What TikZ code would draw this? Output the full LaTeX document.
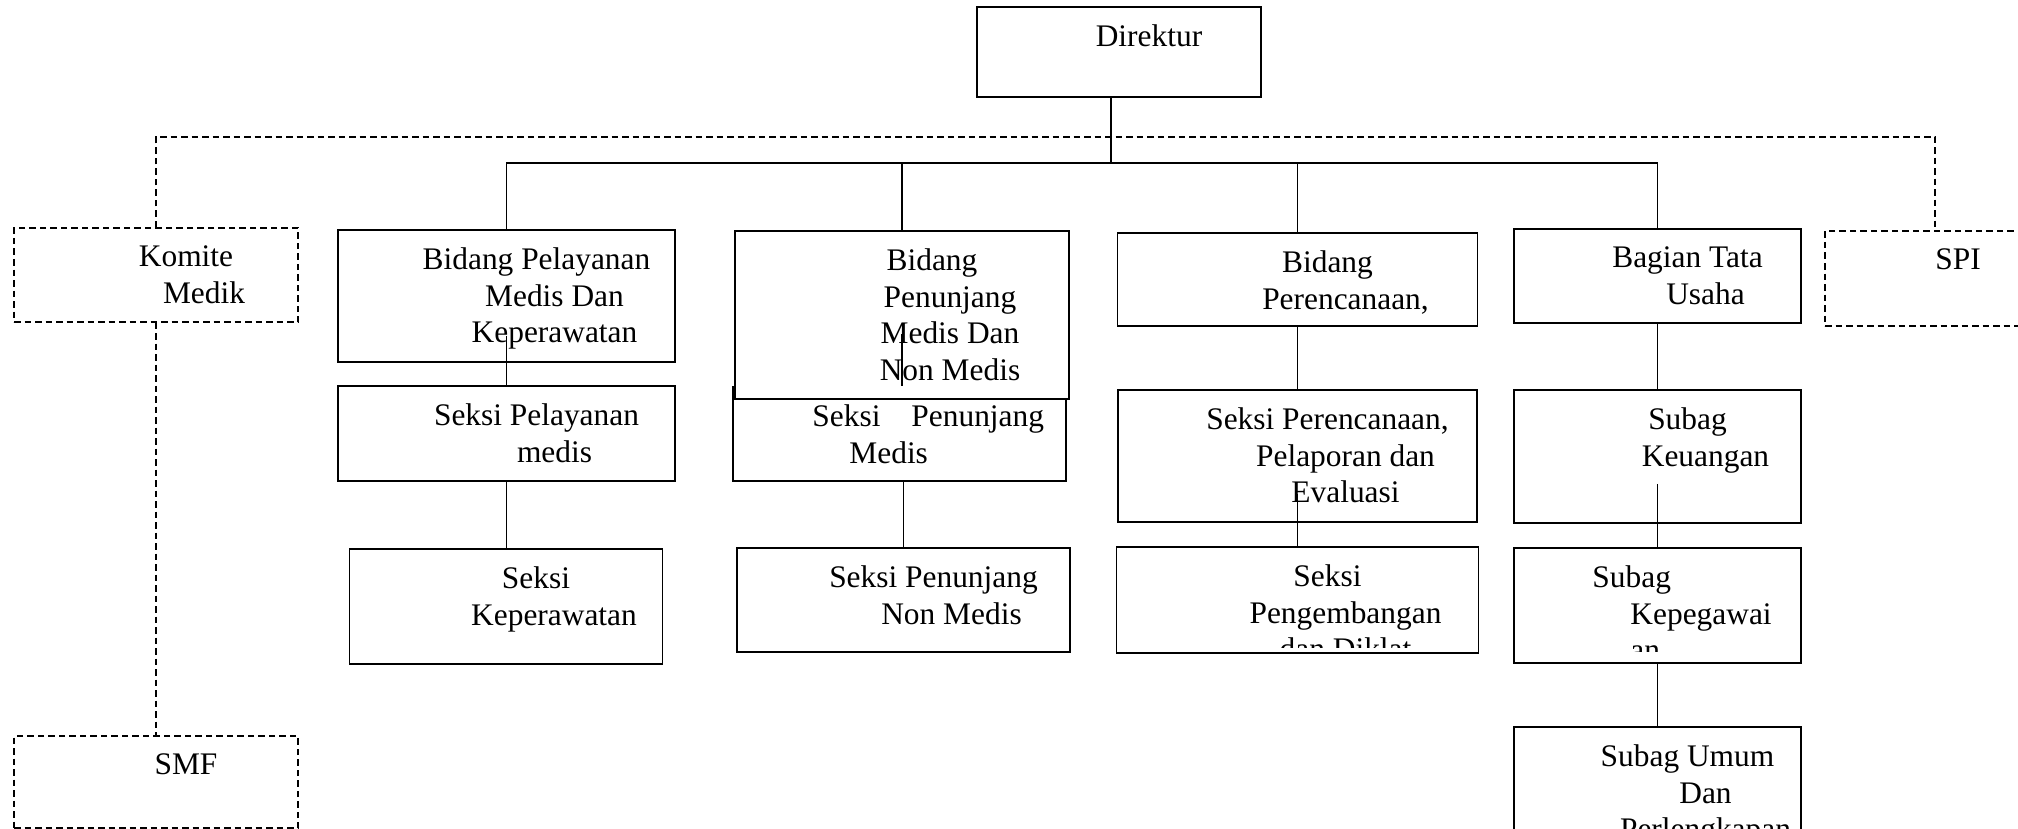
\documentclass[tikz,border=0pt]{standalone}
\usepackage{fontspec}
\setmainfont{Liberation Serif}
\newcommand\boxfont{\fontsize{31.4}{36.8}\selectfont}
\newcommand\firstln[1]{\hspace*{-36pt}#1}

\begin{document}
\begin{tikzpicture}[x=1pt,y=-1pt,
  box/.style={draw=black,fill=white,line width=1.5pt,inner sep=0pt},
  dbox/.style={draw=black,line width=1.3pt,dash pattern=on 6.5pt off 4pt,inner sep=0pt},
  txt/.style={anchor=north,inner sep=0pt,align=center,font=\boxfont},
  ltxt/.style={anchor=north west,inner sep=0pt,align=left,font=\boxfont},
  link/.style={line width=1.3pt},
  dlink/.style={line width=1.3pt,dash pattern=on 6.5pt off 4pt}]
\useasboundingbox (0,0) rectangle (2018,829);
\clip (0,0) rectangle (2018,829);
\node[box,minimum width=284pt,minimum height=90pt] (0) at (1119,52) {};
\node[dbox,minimum width=284pt,minimum height=94pt] (1) at (156,275) {};
\node[dbox,minimum width=284pt,minimum height=92pt] (2) at (156,782) {};
\node[dbox,minimum width=220pt,minimum height=95pt] (3) at (1935,278.5) {};
\node[box,minimum width=337pt,minimum height=132pt] (4) at (506.5,296) {};
\node[box,minimum width=337pt,minimum height=95pt] (5) at (506.5,433.5) {};
\node[box,minimum width=313pt,minimum height=115pt] (6) at (506,606.5) {};
\node[box,minimum width=333pt,minimum height=94pt] (7) at (899.5,434) {};
\node[box,minimum width=334pt,minimum height=168pt] (8) at (902,315) {};
\node[box,minimum width=333pt,minimum height=104pt] (9) at (903.5,600) {};
\node[box,minimum width=360pt,minimum height=93pt] (10) at (1297.5,279.5) {};
\node[box,minimum width=359pt,minimum height=132pt] (11) at (1297.5,456) {};
\node[box,minimum width=362pt,minimum height=106pt] (12) at (1297.5,600) {};
\node[box,minimum width=287pt,minimum height=94pt] (13) at (1657.5,276) {};
\node[box,minimum width=287pt,minimum height=133pt] (14) at (1657.5,456.5) {};
\node[box,minimum width=287pt,minimum height=115pt] (15) at (1657.5,605.5) {};
\node[box,minimum width=287pt,minimum height=133pt] (16) at (1657.5,793.5) {};

\node[txt,shift={(48,18)}] (t0) at (0.north) {\firstln{Direktur}};
\node[txt,shift={(48,18)}] (t1) at (1.north) {\firstln{Komite}\\Medik};
\node[txt,shift={(48,18)}] (t2) at (2.north) {\firstln{SMF}};
\node[txt,shift={(41,18)}] (t3) at (3.north) {\firstln{SPI}};
\node[txt,shift={(48,18)}] (t4) at (4.north) {\firstln{Bidang Pelayanan}\\Medis Dan\\Keperawatan};
\node[txt,shift={(48,18)}] (t5) at (5.north) {\firstln{Seksi Pelayanan}\\medis};
\node[txt,shift={(48,18)}] (t6) at (6.north) {\firstln{Seksi}\\Keperawatan};
\node[ltxt,shift={(80,18)}] (t7) at (7.north west) {Seksi\hspace{31pt}Penunjang\\\hspace*{37pt}Medis};
\node[txt,shift={(48,18)}] (t8) at (8.north) {\firstln{Bidang}\\Penunjang\\Medis Dan\\Non Medis};
\node[txt,shift={(48,18)}] (t9) at (9.north) {\firstln{Seksi Penunjang}\\Non Medis};
\node[txt,shift={(48,18)}] (t10) at (10.north) {\firstln{Bidang}\\Perencanaan,};
\node[txt,shift={(48,18)}] (t11) at (11.north) {\firstln{Seksi Perencanaan,}\\Pelaporan dan\\Evaluasi};
\begin{scope}
\clip (12.north west) rectangle ([shift={(0,-6)}]12.south east);
\node[txt,shift={(48,18)}] (t12) at (12.north) {\firstln{Seksi}\\Pengembangan\\dan Diklat};
\end{scope}
\node[txt,shift={(48,18)}] (t13) at (13.north) {\firstln{Bagian Tata}\\Usaha};
\node[txt,shift={(48,18)}] (t14) at (14.north) {\firstln{Subag}\\Keuangan};
\begin{scope}
\clip (15.north west) rectangle ([shift={(0,-12)}]15.south east);
\node[ltxt,shift={(79,18)}] (t15) at (15.north west) {Subag\\\hspace*{38pt}Kepegawai\\\hspace*{38pt}an};
\end{scope}
\node[txt,shift={(48,18)}] (t16) at (16.north) {\firstln{Subag Umum}\\Dan\\Perlengkapan};

\coordinate (hub) at (1111,163);
\coordinate (dbus) at (1111,137);
\draw[link] (0.south -| hub) -- (hub);
\draw[link] (4.north) |- (hub) -| (13.north);
\draw[link] (8.north |- hub) -- (8.north);
\draw[link] (10.north |- hub) -- (10.north);
\draw[dlink] (1.north) |- (dbus) -| (3.north);
\draw[dlink] (1.south) -- (2.north);
\draw[link] ([shift={(0,-27)}]4.south) -- (5.north);
\draw[link] (5.south) -- (5.south |- 6.north);
\draw[link] ([shift={(0,-66)}]8.south) -- (8.south |- 7.north);
\draw[link] (9.north |- 7.south) -- (9.north);
\draw[link] (10.south) -- (11.north);
\draw[link] ([shift={(0,-29)}]11.south) -- (12.north);
\draw[link] (13.south) -- (14.north);
\draw[link] ([shift={(0,-40)}]14.south) -- (15.north);
\draw[link] (15.south) -- (16.north);
\end{tikzpicture}
\end{document}
